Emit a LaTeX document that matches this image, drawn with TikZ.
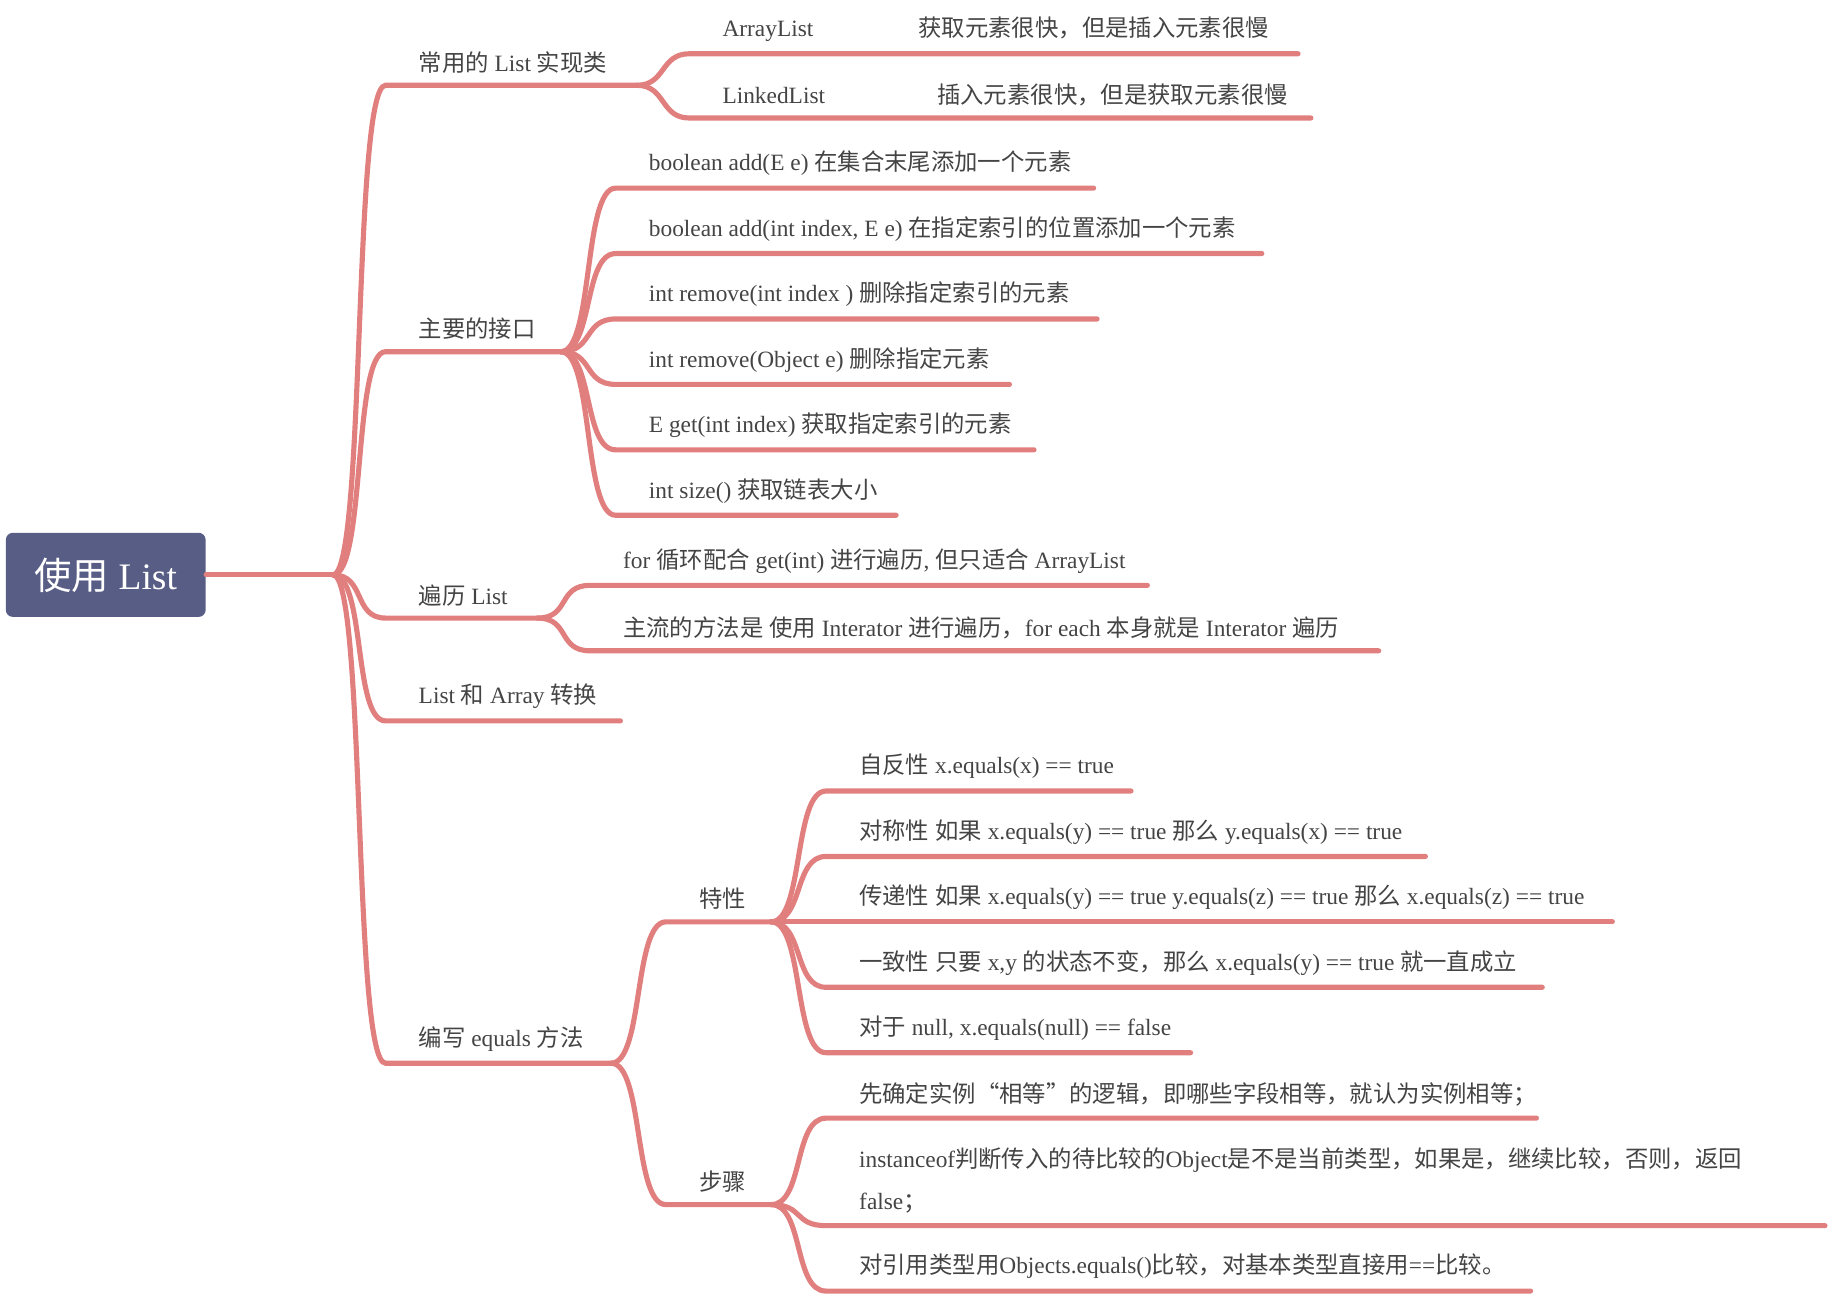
\documentclass[tikz,border=0pt]{standalone}
\usepackage{fontspec}
\setmainfont{Liberation Serif}
\newfontfamily\cjkf{Noto Sans CJK SC}
\newcommand\zh[1]{{\cjkf #1}}
\definecolor{br}{HTML}{E07F7E}
\definecolor{tx}{HTML}{444444}
\definecolor{rootc}{HTML}{575D85}
\begin{document}
\begin{tikzpicture}[x=0.5pt,y=-0.5pt,
  brl/.style={draw=br,line width=2.2pt,line cap=round},
  lbl/.style={anchor=south west,inner sep=0pt,text=tx,font=\fontsize{10}{12}\selectfont}]
\useasboundingbox (0,0) rectangle (1568,1110);
\node[fill=rootc,rounded corners=3pt,minimum width=171*0.5pt,minimum height=72*0.5pt,text=white,font=\fontsize{16}{18}\selectfont,inner sep=0pt] (root) at (90.5,492) {\zh{使用} List};
\coordinate (R) at (285,492);
\draw[brl] (root.east) -- (R);
% macro: name, parent, y, xstart, xend, textoffset-y
\newcommand\leaf[7]{%
  \coordinate (#1s) at (#4,#3); \coordinate (#1e) at (#5,#3);
  \draw[brl] (#2) .. controls +(#6,0) and +(-#6,0) .. (#1s) -- (#1e);
  \node[lbl] (#1t) at ([xshift=14pt,yshift=5pt]#1s) {#7};}
\leaf{a}{R}{73}{330}{545}{28}{\zh{常用的} List \zh{实现类}}
\leaf{b}{R}{301}{330}{480}{28}{\zh{主要的接口}}
\leaf{c}{R}{529}{330}{460}{28}{\zh{遍历} List}
\leaf{d}{R}{617}{330}{531}{28}{List \zh{和} Array \zh{转换}}
\leaf{e}{R}{910}{330}{523}{28}{\zh{编写} equals \zh{方法}}
% ArrayList etc
\leaf{a1}{ae}{46}{590}{1111}{25}{ArrayList\hspace{45pt}\zh{获取元素很快，但是插入元素很慢}}
\leaf{a2}{ae}{101}{590}{1122}{25}{LinkedList\hspace{48pt}\zh{插入元素很快，但是获取元素很慢}}
\leaf{b1}{be}{161}{527}{936}{28}{boolean add(E e) \zh{在集合末尾添加一个元素}}
\leaf{b2}{be}{217}{527}{1080}{28}{boolean add(int index, E e) \zh{在指定索引的位置添加一个元素}}
\leaf{b3}{be}{273}{527}{939}{28}{int remove(int index ) \zh{删除指定索引的元素}}
\leaf{b4}{be}{329}{527}{864}{28}{int remove(Object e) \zh{删除指定元素}}
\leaf{b5}{be}{385}{527}{885}{28}{E get(int index) \zh{获取指定索引的元素}}
\leaf{b6}{be}{441}{527}{767}{28}{int size() \zh{获取链表大小}}
\leaf{c1}{ce}{501}{505}{982}{28}{for \zh{循环配合} get(int) \zh{进行遍历}, \zh{但只适合} ArrayList}
\leaf{c2}{ce}{557}{505}{1180}{28}{\zh{主流的方法是} \zh{使用} Interator \zh{进行遍历，}for each \zh{本身就是} Interator \zh{遍历}}
\leaf{e1}{ee}{789}{570}{660}{28}{\zh{特性}}
\leaf{e2}{ee}{1031}{570}{660}{28}{\zh{步骤}}
\leaf{f1}{e1e}{677}{707}{968}{28}{\zh{自反性} x.equals(x) == true}
\leaf{f2}{e1e}{733}{707}{1220}{28}{\zh{对称性} \zh{如果} x.equals(y) == true \zh{那么} y.equals(x) == true}
\leaf{f3}{e1e}{789}{707}{1380}{28}{\zh{传递性} \zh{如果} x.equals(y) == true y.equals(z) == true \zh{那么} x.equals(z) == true}
\leaf{f4}{e1e}{845}{707}{1320}{28}{\zh{一致性} \zh{只要} x,y \zh{的状态不变，那么} x.equals(y) == true \zh{就一直成立}}
\leaf{f5}{e1e}{901}{707}{1019}{28}{\zh{对于} null, x.equals(null) == false}
\leaf{g1}{e2e}{957}{707}{1315}{28}{\zh{先确定实例“相等”的逻辑，即哪些字段相等，就认为实例相等；}}
\leaf{g2}{e2e}{1049}{707}{1562}{28}{\shortstack[l]{instanceof\zh{判断传入的待比较的}Object\zh{是不是当前类型，如果是，继续比较，否则，返回}\\[6pt]false\zh{；}}}
\leaf{g3}{e2e}{1105}{707}{1310}{28}{\zh{对引用类型用}Objects.equals()\zh{比较，对基本类型直接用}==\zh{比较。}}
\end{tikzpicture}
\end{document}
